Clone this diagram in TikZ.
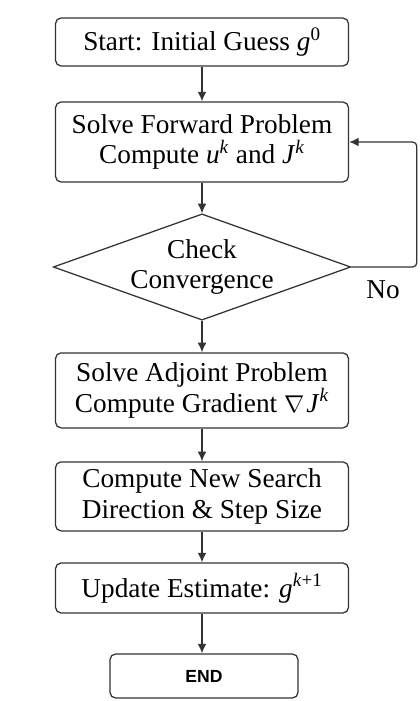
\documentclass[tikz,border=0pt]{standalone}
\usepackage{fontspec}
\setmainfont{Liberation Serif}
\newfontfamily\endfont{Liberation Sans}
\usetikzlibrary{shapes.geometric,arrows.meta}
\definecolor{linegray}{HTML}{333333}
\newcommand{\itvar}[2]{\textit{#1}\textsuperscript{#2}}
\begin{document}
\begin{tikzpicture}[
      font=\fontsize{19.4}{21.5}\selectfont,
      stepbox/.style={draw=linegray,line width=0.9pt,rounded corners=4pt,
        minimum width=7.325cm,align=center,inner sep=2pt},
      checkbox/.style={draw=linegray,line width=0.9pt,diamond,aspect=2.8,
        minimum width=7.175cm,minimum height=2.55cm,align=center,inner sep=0pt},
      flow/.style={draw=linegray,line width=0.9pt,-{Latex[length=2.4mm,width=2.2mm]}}]
      \useasboundingbox (0,0) rectangle (10.475,-17.525);
      \path (5.05,-1.05) node[stepbox,minimum height=1.2cm] (start)
        {Start: Initial Guess \itvar{g}{0}};
      \path (5.05,-3.55) node[stepbox,minimum height=2.0cm] (fwd)
        {Solve Forward Problem\\Compute \itvar{u}{\textit{k}} and \itvar{J}{\textit{k}}};
      \path (5.05,-6.675) node[checkbox] (chk) {Check\\Convergence};
      \path (5.05,-9.76) node[stepbox,minimum height=1.875cm] (adj)
        {Solve Adjoint Problem\\Compute Gradient {\fontsize{16}{18}\selectfont$\nabla$}\kern1.5pt\itvar{J}{\textit{k}}};
      \path (5.05,-12.41) node[stepbox,minimum height=1.725cm] (dir)
        {Compute New Search\\Direction \& Step Size};
      \path (5.05,-14.7) node[stepbox,minimum height=1.25cm] (upd)
        {Update Estimate: \itvar{g}{\textit{k}+1}};
      \path (5.1,-16.9) node[stepbox,minimum width=4.7cm,minimum height=1.1cm,
        font=\endfont\bfseries\fontsize{12.5}{14}\selectfont] (stop) {END};
      \coordinate (loop) at (10.42,-6.675);
      \draw[flow] (start) -- (fwd);
      \draw[flow] (fwd) -- (chk);
      \draw[flow] (chk) -- (adj);
      \draw[flow] (adj) -- (dir);
      \draw[flow] (dir) -- (upd);
      \draw[flow] (upd.south) -- (upd.south |- stop.north);
      \draw[flow,rounded corners=3pt] (chk.east) -- (loop) |- (fwd.east);
      \path (9.575,-7.25) node (no) {No};
     \end{tikzpicture}
\end{document}
